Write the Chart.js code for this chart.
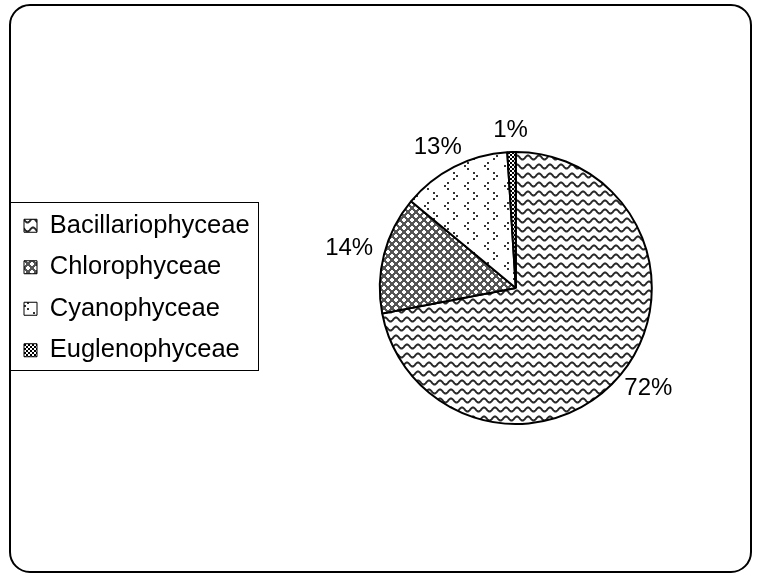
<!DOCTYPE html>
<html>
<head>
<meta charset="utf-8">
<title>Phytoplankton groups</title>
<script src="https://cdn.jsdelivr.net/npm/chart.js@4.4.0/dist/chart.umd.min.js"></script>
<style>
  body { margin: 0; background: #fff; }
  #wrap { width: 757px; height: 576px; }
</style>
</head>
<body>
<div id="wrap"><canvas id="pieChart" width="757" height="576"></canvas></div>
<script>
// Values
const groups = ['Bacillariophyceae', 'Chlorophyceae', 'Cyanophyceae', 'Euglenophyceae'];
const shares = [72, 14, 13, 1];
const pctLabels = ['72%', '14%', '13%', '1%'];

Chart.defaults.font.family = '"Liberation Sans", Arial, sans-serif';
Chart.defaults.color = '#000';

// small repeating tiles used as fill patterns
function makePattern(w, h, draw) {
    const c = document.createElement('canvas');
    c.width = w;
    c.height = h;
    const g = c.getContext('2d');
    g.fillStyle = '#fff';
    g.fillRect(0, 0, w, h);
    draw(g, w, h);
    return g.createPattern(c, 'repeat');
}

const wavePattern = makePattern(11, 9, (g, w) => {
    g.strokeStyle = '#2a2a2a';
    g.lineWidth = 2;
    g.beginPath();
    for (let x = -1; x <= w + 1; x += 0.5) {
        const y = 4.5 - 2.1 * Math.cos(2 * Math.PI * x / w);
        if (x === -1) g.moveTo(x, y); else g.lineTo(x, y);
    }
    g.stroke();
});

const hatchPattern = makePattern(8, 8, g => {
    g.fillStyle = '#555';
    g.fillRect(0, 0, 8, 8);
    g.fillStyle = '#fff';
    [[4, 4], [0, 0], [8, 0], [0, 8], [8, 8]].forEach(([cx, cy]) => {
        g.fillRect(cx - 1, cy - 2, 2, 4);
        g.fillRect(cx - 2, cy - 1, 4, 2);
    });
});

const divotPattern = makePattern(20, 20, g => {
    g.fillStyle = '#333';
    // "<" mark
    g.fillRect(7, 2, 2, 2);
    g.fillRect(4, 5, 2, 2);
    g.fillRect(7, 8, 2, 2);
    // ">" mark
    g.fillRect(13, 12, 2, 2);
    g.fillRect(16, 15, 2, 2);
    g.fillRect(13, 18, 2, 2);
});

const dotPattern = makePattern(4, 4, g => {
    g.fillStyle = '#000';
    g.fillRect(0, 0, 2, 2);
    g.fillRect(2, 2, 2, 2);
});

// widen the legend's layout box a little so the pie sits further right
const legendGap = {
    id: 'legendGap',
    afterInit(chart) {
        const fit = chart.legend.fit;
        chart.legend.fit = function () {
            fit.call(this);
            this.width += 15;
        };
    }
};

// rounded frame around the whole picture
const frame = {
    id: 'frame',
    beforeDraw(chart) {
        const ctx = chart.ctx;
        const x = 10, y = 5, w = 741, h = 567, r = 20;
        ctx.save();
        ctx.strokeStyle = '#000';
        ctx.lineWidth = 2;
        ctx.beginPath();
        ctx.moveTo(x + r, y);
        ctx.arcTo(x + w, y, x + w, y + h, r);
        ctx.arcTo(x + w, y + h, x, y + h, r);
        ctx.arcTo(x, y + h, x, y, r);
        ctx.arcTo(x, y, x + w, y, r);
        ctx.closePath();
        ctx.stroke();
        ctx.restore();
    }
};

// thin box around the legend entries
const legendBox = {
    id: 'legendBox',
    afterDraw(chart) {
        const boxes = chart.legend.legendHitBoxes;
        if (!boxes || !boxes.length) return;
        const first = boxes[0];
        const last = boxes[boxes.length - 1];
        const left = Math.min(...boxes.map(b => b.left)) - 14;
        const right = Math.max(...boxes.map(b => b.left + b.width)) + 8;
        const top = first.top + first.height / 2 - 24;
        const bottom = last.top + last.height / 2 + 19;
        const ctx = chart.ctx;
        ctx.save();
        ctx.strokeStyle = '#000';
        ctx.lineWidth = 1;
        ctx.strokeRect(Math.round(left) + 0.5, Math.round(top) + 0.5, Math.round(right - left), Math.round(bottom - top));
        ctx.restore();
    }
};

// percentage labels just outside each slice
const sliceLabels = {
    id: 'sliceLabels',
    afterDatasetsDraw(chart) {
        const ctx = chart.ctx;
        const arcs = chart.getDatasetMeta(0).data;
        ctx.save();
        ctx.font = '24px "Liberation Sans", Arial, sans-serif';
        ctx.fillStyle = '#000';
        ctx.textAlign = 'center';
        ctx.textBaseline = 'middle';
        arcs.forEach((arc, i) => {
            const p = arc.getProps(['x', 'y', 'startAngle', 'endAngle', 'outerRadius'], true);
            const mid = (p.startAngle + p.endAngle) / 2;
            const dx = Math.cos(mid), dy = Math.sin(mid);
            const halfW = ctx.measureText(pctLabels[i]).width / 2;
            const reach = p.outerRadius + 12;
            ctx.fillText(pctLabels[i], p.x + dx * (reach + halfW), p.y + dy * (reach + 10));
        });
        ctx.restore();
    }
};

const ctx = document.getElementById('pieChart').getContext('2d');
new Chart(ctx, {
    type: 'pie',
    data: {
        labels: groups,
        datasets: [{
            data: shares,
            backgroundColor: [wavePattern, hatchPattern, divotPattern, dotPattern],
            borderColor: '#000',
            borderWidth: 2
        }]
    },
    options: {
        responsive: false,
        animation: false,
        layout: {
            padding: { left: 8, right: 0, top: 151, bottom: 151 }
        },
        plugins: {
            tooltip: { enabled: false },
            legend: {
                position: 'left',
                labels: {
                    boxWidth: 13,
                    boxHeight: 13,
                    padding: 16,
                    font: { size: 25.5 },
                    generateLabels(chart) {
                        const items = Chart.overrides.doughnut.plugins.legend.labels.generateLabels(chart);
                        items.forEach(item => {
                            item.lineWidth = 1;
                            item.strokeStyle = '#000';
                        });
                        return items;
                    }
                }
            }
        }
    },
    plugins: [legendGap, frame, legendBox, sliceLabels]
});
</script>
</body>
</html>
